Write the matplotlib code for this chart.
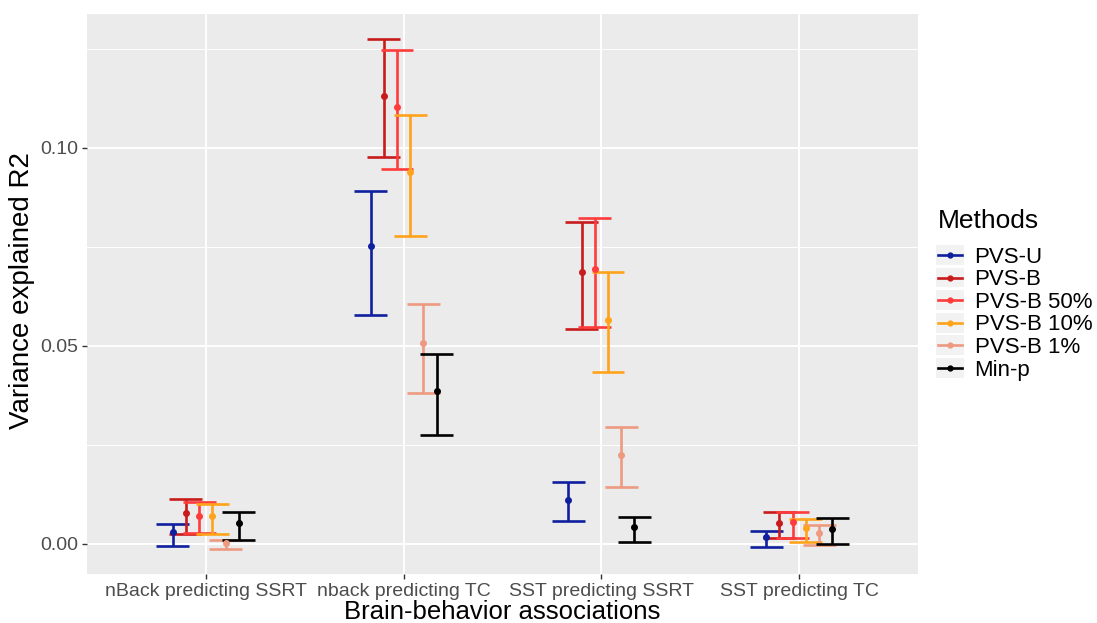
import matplotlib
matplotlib.use("Agg")
import matplotlib.pyplot as plt
from matplotlib.lines import Line2D
from matplotlib.patches import Rectangle
from matplotlib.legend_handler import HandlerLine2D
import numpy as np

plt.rcParams['font.family'] = ['Liberation Sans', 'DejaVu Sans']

categories = ["nBack predicting SSRT", "nback predicting TC", "SST predicting SSRT", "SST predicting TC"]
methods = ["PVS-U", "PVS-B", "PVS-B 50%", "PVS-B 10%", "PVS-B 1%", "Min-p"]
colors = ["#0F1F9E", "#C81B1B", "#FF3B3B", "#FFA31A", "#EE9A80", "#000000"]

# point estimates per method and category
est_pvs_u   = [0.0030, 0.0753, 0.0111, 0.0018]
est_pvs_b   = [0.0078, 0.1132, 0.0688, 0.0052]
est_pvs_b50 = [0.0071, 0.1104, 0.0694, 0.0055]
est_pvs_b10 = [0.0071, 0.0939, 0.0566, 0.0040]
est_pvs_b1  = [0.0002, 0.0508, 0.0226, 0.0027]
est_minp    = [0.0052, 0.0386, 0.0044, 0.0037]

low_pvs_u   = [-0.0006, 0.0578, 0.0059, -0.0007]
low_pvs_b   = [0.0025, 0.0978, 0.0542, 0.0016]
low_pvs_b50 = [0.0028, 0.0946, 0.0547, 0.0014]
low_pvs_b10 = [0.0024, 0.0777, 0.0434, 0.0006]
low_pvs_b1  = [-0.0013, 0.0381, 0.0145, -0.0003]
low_minp    = [0.0010, 0.0274, 0.0006, 0.0000]

high_pvs_u   = [0.0050, 0.0891, 0.0157, 0.0033]
high_pvs_b   = [0.0114, 0.1274, 0.0814, 0.0082]
high_pvs_b50 = [0.0106, 0.1247, 0.0822, 0.0080]
high_pvs_b10 = [0.0101, 0.1083, 0.0686, 0.0063]
high_pvs_b1  = [0.0009, 0.0607, 0.0296, 0.0048]
high_minp    = [0.0080, 0.0480, 0.0069, 0.0065]

ests = [est_pvs_u, est_pvs_b, est_pvs_b50, est_pvs_b10, est_pvs_b1, est_minp]
lows = [low_pvs_u, low_pvs_b, low_pvs_b50, low_pvs_b10, low_pvs_b1, low_minp]
highs = [high_pvs_u, high_pvs_b, high_pvs_b50, high_pvs_b10, high_pvs_b1, high_minp]

fig = plt.figure(figsize=(10.97, 6.23), dpi=100)
ax = fig.add_axes([87/1097, 1-574/623, (918-87)/1097, (574-14)/623])
ax.set_facecolor("#EBEBEB")
for s in ax.spines.values():
    s.set_visible(False)

x = np.arange(1, len(categories) + 1)
n = len(methods)
offsets = (np.arange(n) - (n - 1) / 2) * 0.0667
cap = 0.083

# grid
for yv in [0.025, 0.075, 0.125]:
    ax.axhline(yv, color="white", lw=0.7, zorder=0)
for yv in [0.0, 0.05, 0.10]:
    ax.axhline(yv, color="white", lw=1.4, zorder=0)
for xv in x:
    ax.axvline(xv, color="white", lw=1.4, zorder=0)

LW = 1.9
for i in range(n):
    xs = x + offsets[i]
    e = np.array(ests[i]); lo = np.array(lows[i]); hi = np.array(highs[i])
    for xx, l, h in zip(xs, lo, hi):
        ax.plot([xx, xx], [l, h], color=colors[i], lw=LW, solid_capstyle="butt", zorder=2)
        ax.plot([xx - cap, xx + cap], [l, l], color=colors[i], lw=LW, solid_capstyle="butt", zorder=2)
        ax.plot([xx - cap, xx + cap], [h, h], color=colors[i], lw=LW, solid_capstyle="butt", zorder=2)
    ax.plot(xs, e, 'o', color=colors[i], ms=4.0, zorder=3)

ax.set_xlim(0.4, 4.6)
ax.set_ylim(-(574 - 544) / 3960, (544 - 14) / 3960)
ax.set_xticks(x)
ax.set_xticklabels(categories)
ax.set_yticks([0.0, 0.05, 0.10])
ax.set_yticklabels(["0.00", "0.05", "0.10"])
ax.tick_params(axis="both", colors="#333333", length=3.5, width=1.0, labelsize=14, labelcolor="#4D4D4D", pad=3)
ax.set_xlabel("Brain-behavior associations", fontsize=18.5, labelpad=0)
ax.set_ylabel("Variance explained R2", fontsize=20, labelpad=3)
ax.yaxis.set_label_coords(-0.063, 0.507)


class KeyHandler(HandlerLine2D):
    def create_artists(self, legend, orig_handle, xdescent, ydescent, width, height, fontsize, trans):
        pad = 1.5
        bg = Rectangle((-xdescent - pad, -ydescent - pad), width + 2 * pad, height + 2 * pad,
                       facecolor="#F2F2F2", edgecolor="none", transform=trans)
        arts = super().create_artists(legend, orig_handle, xdescent, ydescent, width, height, fontsize, trans)
        return [bg] + list(arts)


handles = [Line2D([0], [0], color=c, lw=1.9, marker='o', ms=3.5) for c in colors]
leg = fig.legend(handles, methods, title="Methods", loc="upper left",
                 bbox_to_anchor=(929/1097, 1-200/623), frameon=False,
                 fontsize=16, title_fontsize=19, handlelength=1.1, handleheight=0.7,
                 labelspacing=0.07, handletextpad=0.55, borderaxespad=0,
                 handler_map={Line2D: KeyHandler(numpoints=1)})
leg._legend_box.align = "left"
leg._legend_box.sep = 10

fig.savefig("out.png", dpi=100)
